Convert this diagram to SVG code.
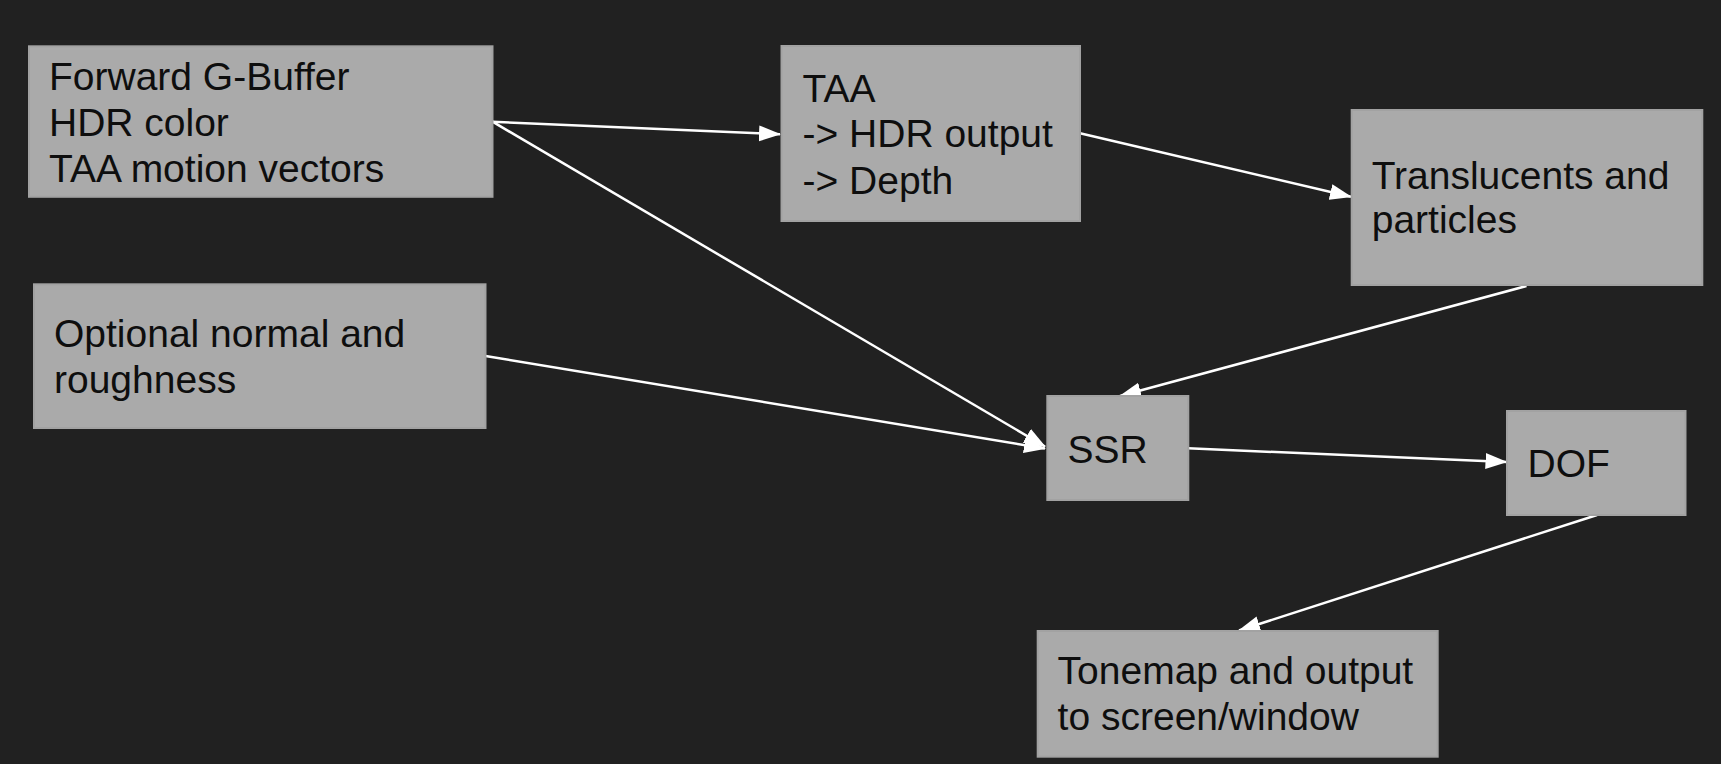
<svg xmlns="http://www.w3.org/2000/svg" width="1721" height="764" viewBox="0 0 1721 764">
<style>
.box{fill:#aaaaaa;stroke:#a2a2a2;stroke-width:2}
.t{font-family:"Liberation Sans",Arial,sans-serif;font-size:39px;fill:#0e0e0e}
.c{fill:none;stroke:#ffffff;stroke-width:2.5;marker-end:url(#ah)}
</style>
<defs>
<marker id="ah" markerUnits="userSpaceOnUse" markerWidth="23" markerHeight="17" refX="21" refY="8" orient="auto">
<path d="M0,0 L22,8 L0,16 z" fill="#ffffff"/>
</marker>
</defs>
<rect width="1721" height="764" fill="#212121"/>
<g id="connectors">
<line class="c" x1="492.5" y1="121.7" x2="780" y2="134.3"/>
<line class="c" x1="492.5" y1="121.7" x2="1045" y2="446.5"/>
<line class="c" x1="1080" y1="133.3" x2="1351" y2="196.7"/>
<line class="c" x1="1526.5" y1="286" x2="1120" y2="396"/>
<line class="c" x1="485.5" y1="356" x2="1045" y2="448.5"/>
<line class="c" x1="1188" y1="448.3" x2="1506.5" y2="462"/>
<line class="c" x1="1597" y1="515" x2="1239" y2="630.5"/>
</g>
<g id="n-gbuffer">
<rect class="box" x="29" y="46.3" width="463.5" height="150.5"/>
<text class="t" x="49" y="89.5">Forward G-Buffer<tspan x="49" y="136">HDR color</tspan><tspan x="49" y="181.7">TAA motion vectors</tspan></text>
</g>
<g id="n-taa">
<rect class="box" x="781.5" y="46" width="298.5" height="175"/>
<text class="t" x="802.5" y="102.3">TAA<tspan x="802.5" y="147.3">-&gt; HDR output</tspan><tspan x="802.5" y="194">-&gt; Depth</tspan></text>
</g>
<g id="n-translucents">
<rect class="box" x="1351.7" y="110" width="350.6" height="175"/>
<text class="t" x="1371.7" y="189.3">Translucents and<tspan x="1371.7" y="233.3">particles</tspan></text>
</g>
<g id="n-optional">
<rect class="box" x="34" y="284.3" width="451.5" height="143.7"/>
<text class="t" x="54" y="346.7">Optional normal and<tspan x="54" y="393">roughness</tspan></text>
</g>
<g id="n-ssr">
<rect class="box" x="1047.3" y="396" width="141" height="104"/>
<text class="t" x="1067.5" y="463">SSR</text>
</g>
<g id="n-dof">
<rect class="box" x="1507" y="411" width="178.5" height="104"/>
<text class="t" x="1527.6" y="476.7">DOF</text>
</g>
<g id="n-tonemap">
<rect class="box" x="1037.7" y="631" width="400" height="125.7"/>
<text class="t" x="1057.6" y="684.3">Tonemap and output<tspan x="1057.6" y="730">to screen/window</tspan></text>
</g>
</svg>
